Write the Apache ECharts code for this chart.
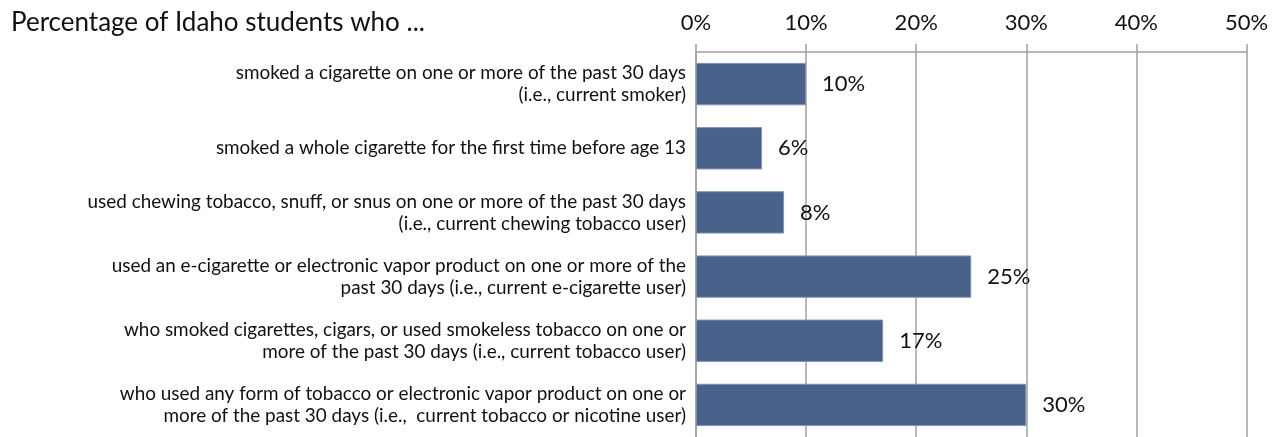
<!DOCTYPE html>
<html>
<head>
<meta charset="utf-8">
<script src="https://cdn.jsdelivr.net/npm/echarts@6/dist/echarts.min.js"></script>
<style>
  html, body { margin: 0; padding: 0; background: #ffffff; }
  #chart { width: 1278px; height: 437px; }
</style>
</head>
<body>
<div id="chart"></div>
<script>
// Behaviours listed top to bottom
const categories = [
  'smoked a cigarette on one or more of the past 30 days\n(i.e., current smoker)',
  'smoked a whole cigarette for the first time before age 13',
  'used chewing tobacco, snuff, or snus on one or more of the past 30 days\n(i.e., current chewing tobacco user)',
  'used an e-cigarette or electronic vapor product on one or more of the\npast 30 days (i.e., current e-cigarette user)',
  'who smoked cigarettes, cigars, or used smokeless tobacco on one or\nmore of the past 30 days (i.e., current tobacco user)',
  'who used any form of tobacco or electronic vapor product on one or\nmore of the past 30 days (i.e.,  current tobacco or nicotine user)'
];

// Percent of students
const percentValues = [10, 6, 8, 25, 17, 30];

// Value axis range
const axisMin = 0;
const axisMax = 50;
const axisStep = 10;

const FONT = 'Lato, "Open Sans", sans-serif';

const chart = echarts.init(document.getElementById('chart'), null, { renderer: 'canvas' });

chart.setOption({
  backgroundColor: '#ffffff',
  animation: false,
  title: {
    text: 'Percentage of Idaho students who ...',
    left: 6,
    top: 5,
    textStyle: { fontFamily: FONT, fontSize: 26, fontWeight: 'normal', color: '#111111' }
  },
  grid: { left: 696, right: 31.5, top: 52, height: 386, containLabel: false },
  xAxis: {
    type: 'value',
    position: 'top',
    min: axisMin,
    max: axisMax,
    interval: axisStep,
    axisLine: { show: true, lineStyle: { color: '#a0a0a0', width: 1.5 } },
    axisTick: { show: true, inside: false, length: 8, lineStyle: { color: '#a0a0a0', width: 1.5 } },
    splitLine: { show: true, lineStyle: { color: '#a0a0a0', width: 1.5 } },
    axisLabel: {
      margin: 18,
      fontFamily: FONT,
      fontSize: 22,
      color: '#111111',
      formatter: v => v + '%'
    }
  },
  yAxis: {
    type: 'category',
    data: categories,
    inverse: true,
    axisLine: { show: true, lineStyle: { color: '#a0a0a0', width: 1.5 } },
    axisTick: { show: false },
    axisLabel: {
      margin: 10,
      fontFamily: FONT,
      fontSize: 18.9,
      lineHeight: 22,
      color: '#111111',
      align: 'right'
    }
  },
  series: [{
    type: 'bar',
    data: percentValues,
    barCategoryGap: '34%',
    itemStyle: { color: '#4a6189', borderColor: '#7d93b8', borderWidth: 1 },
    label: {
      show: true,
      position: 'right',
      distance: 16,
      fontFamily: FONT,
      fontSize: 22,
      color: '#111111',
      formatter: p => p.value + '%'
    }
  }]
});
</script>
</body>
</html>
